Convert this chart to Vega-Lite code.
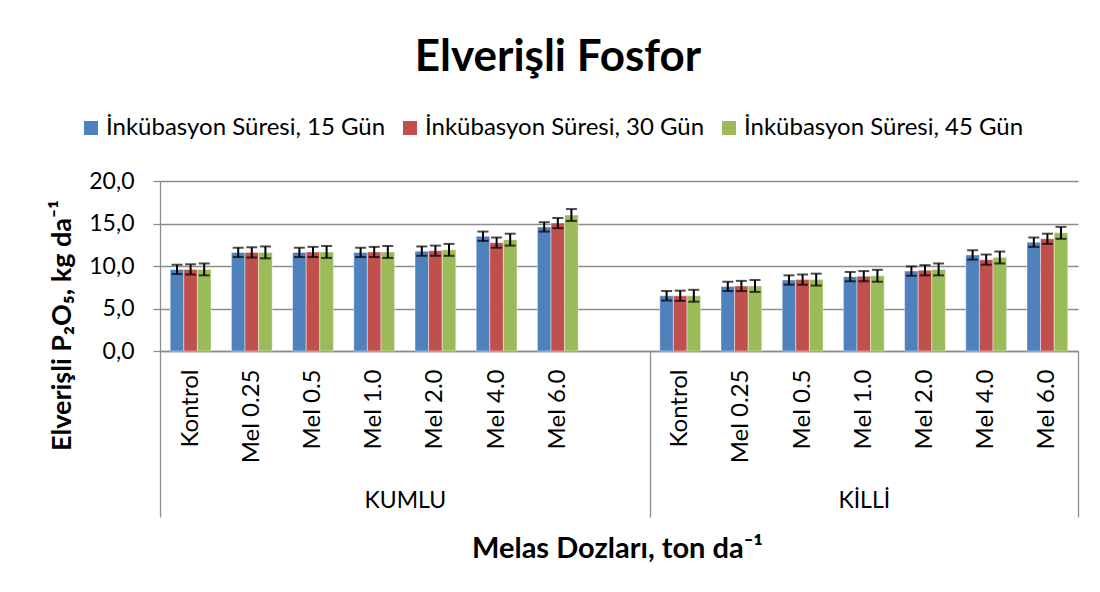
{
  "$schema": "https://vega.github.io/schema/vega-lite/v6.json",
  "width": 918,
  "height": 170,
  "autosize": "none",
  "padding": {"left": 160, "top": 181, "right": 22, "bottom": 241},
  "background": "white",
  "title": {"text": "Elverişli Fosfor", "font": "Lato", "fontSize": 44, "fontWeight": "bold", "color": "black", "anchor": "middle", "frame": "group", "dx": -61, "offset": 36},
  "config": {"view": {"stroke": null}, "font": "Lato"},
  "layer": [
    {
      "data": {"values": [
        {"slot": "K|Kontrol", "s": "İnkübasyon Süresi, 15 Gün", "v": 9.6, "lo": 9.05, "hi": 10.15},
        {"slot": "K|Kontrol", "s": "İnkübasyon Süresi, 30 Gün", "v": 9.6, "lo": 9.0, "hi": 10.2},
        {"slot": "K|Kontrol", "s": "İnkübasyon Süresi, 45 Gün", "v": 9.6, "lo": 8.9, "hi": 10.3},
        {"slot": "K|Mel 0.25", "s": "İnkübasyon Süresi, 15 Gün", "v": 11.6, "lo": 11.05, "hi": 12.15},
        {"slot": "K|Mel 0.25", "s": "İnkübasyon Süresi, 30 Gün", "v": 11.6, "lo": 11.0, "hi": 12.2},
        {"slot": "K|Mel 0.25", "s": "İnkübasyon Süresi, 45 Gün", "v": 11.6, "lo": 10.9, "hi": 12.3},
        {"slot": "K|Mel 0.5", "s": "İnkübasyon Süresi, 15 Gün", "v": 11.6, "lo": 11.05, "hi": 12.15},
        {"slot": "K|Mel 0.5", "s": "İnkübasyon Süresi, 30 Gün", "v": 11.65, "lo": 11.05, "hi": 12.25},
        {"slot": "K|Mel 0.5", "s": "İnkübasyon Süresi, 45 Gün", "v": 11.65, "lo": 10.95, "hi": 12.35},
        {"slot": "K|Mel 1.0", "s": "İnkübasyon Süresi, 15 Gün", "v": 11.6, "lo": 11.05, "hi": 12.15},
        {"slot": "K|Mel 1.0", "s": "İnkübasyon Süresi, 30 Gün", "v": 11.65, "lo": 11.05, "hi": 12.25},
        {"slot": "K|Mel 1.0", "s": "İnkübasyon Süresi, 45 Gün", "v": 11.65, "lo": 10.95, "hi": 12.35},
        {"slot": "K|Mel 2.0", "s": "İnkübasyon Süresi, 15 Gün", "v": 11.75, "lo": 11.2, "hi": 12.3},
        {"slot": "K|Mel 2.0", "s": "İnkübasyon Süresi, 30 Gün", "v": 11.8, "lo": 11.2, "hi": 12.4},
        {"slot": "K|Mel 2.0", "s": "İnkübasyon Süresi, 45 Gün", "v": 11.9, "lo": 11.2, "hi": 12.6},
        {"slot": "K|Mel 4.0", "s": "İnkübasyon Süresi, 15 Gün", "v": 13.5, "lo": 12.95, "hi": 14.05},
        {"slot": "K|Mel 4.0", "s": "İnkübasyon Süresi, 30 Gün", "v": 12.75, "lo": 12.15, "hi": 13.35},
        {"slot": "K|Mel 4.0", "s": "İnkübasyon Süresi, 45 Gün", "v": 13.1, "lo": 12.4, "hi": 13.8},
        {"slot": "K|Mel 6.0", "s": "İnkübasyon Süresi, 15 Gün", "v": 14.6, "lo": 14.05, "hi": 15.15},
        {"slot": "K|Mel 6.0", "s": "İnkübasyon Süresi, 30 Gün", "v": 15.05, "lo": 14.45, "hi": 15.65},
        {"slot": "K|Mel 6.0", "s": "İnkübasyon Süresi, 45 Gün", "v": 16.0, "lo": 15.3, "hi": 16.7},
        {"slot": "L|Kontrol", "s": "İnkübasyon Süresi, 15 Gün", "v": 6.5, "lo": 5.95, "hi": 7.05},
        {"slot": "L|Kontrol", "s": "İnkübasyon Süresi, 30 Gün", "v": 6.5, "lo": 5.9, "hi": 7.1},
        {"slot": "L|Kontrol", "s": "İnkübasyon Süresi, 45 Gün", "v": 6.5, "lo": 5.8, "hi": 7.2},
        {"slot": "L|Mel 0.25", "s": "İnkübasyon Süresi, 15 Gün", "v": 7.6, "lo": 7.05, "hi": 8.15},
        {"slot": "L|Mel 0.25", "s": "İnkübasyon Süresi, 30 Gün", "v": 7.65, "lo": 7.05, "hi": 8.25},
        {"slot": "L|Mel 0.25", "s": "İnkübasyon Süresi, 45 Gün", "v": 7.65, "lo": 6.95, "hi": 8.35},
        {"slot": "L|Mel 0.5", "s": "İnkübasyon Süresi, 15 Gün", "v": 8.35, "lo": 7.8, "hi": 8.9},
        {"slot": "L|Mel 0.5", "s": "İnkübasyon Süresi, 30 Gün", "v": 8.4, "lo": 7.8, "hi": 9.0},
        {"slot": "L|Mel 0.5", "s": "İnkübasyon Süresi, 45 Gün", "v": 8.4, "lo": 7.7, "hi": 9.1},
        {"slot": "L|Mel 1.0", "s": "İnkübasyon Süresi, 15 Gün", "v": 8.75, "lo": 8.2, "hi": 9.3},
        {"slot": "L|Mel 1.0", "s": "İnkübasyon Süresi, 30 Gün", "v": 8.8, "lo": 8.2, "hi": 9.4},
        {"slot": "L|Mel 1.0", "s": "İnkübasyon Süresi, 45 Gün", "v": 8.85, "lo": 8.15, "hi": 9.55},
        {"slot": "L|Mel 2.0", "s": "İnkübasyon Süresi, 15 Gün", "v": 9.4, "lo": 8.85, "hi": 9.95},
        {"slot": "L|Mel 2.0", "s": "İnkübasyon Süresi, 30 Gün", "v": 9.5, "lo": 8.9, "hi": 10.1},
        {"slot": "L|Mel 2.0", "s": "İnkübasyon Süresi, 45 Gün", "v": 9.6, "lo": 8.9, "hi": 10.3},
        {"slot": "L|Mel 4.0", "s": "İnkübasyon Süresi, 15 Gün", "v": 11.3, "lo": 10.75, "hi": 11.85},
        {"slot": "L|Mel 4.0", "s": "İnkübasyon Süresi, 30 Gün", "v": 10.75, "lo": 10.15, "hi": 11.35},
        {"slot": "L|Mel 4.0", "s": "İnkübasyon Süresi, 45 Gün", "v": 11.0, "lo": 10.3, "hi": 11.7},
        {"slot": "L|Mel 6.0", "s": "İnkübasyon Süresi, 15 Gün", "v": 12.8, "lo": 12.25, "hi": 13.35},
        {"slot": "L|Mel 6.0", "s": "İnkübasyon Süresi, 30 Gün", "v": 13.2, "lo": 12.6, "hi": 13.8},
        {"slot": "L|Mel 6.0", "s": "İnkübasyon Süresi, 45 Gün", "v": 13.9, "lo": 13.2, "hi": 14.6}
      ]},
      "layer": [
        {
          "mark": {"type": "bar", "stroke": "white", "strokeWidth": 0.6, "strokeOpacity": 0.7},
          "encoding": {
            "x": {"field": "slot", "type": "nominal", "sort": null,
              "scale": {"domain": ["K|Kontrol", "K|Mel 0.25", "K|Mel 0.5", "K|Mel 1.0", "K|Mel 2.0", "K|Mel 4.0", "K|Mel 6.0", "K|", "L|Kontrol", "L|Mel 0.25", "L|Mel 0.5", "L|Mel 1.0", "L|Mel 2.0", "L|Mel 4.0", "L|Mel 6.0"], "paddingInner": 0, "paddingOuter": 0},
              "axis": {"orient": "bottom", "title": null, "labelExpr": "split(datum.value, '|')[1]", "labelAngle": 270, "labelAlign": "right", "labelBaseline": "middle", "labelFontSize": 24, "labelColor": "black", "labelPadding": 18, "ticks": false, "domainColor": "#8c8c8c", "domainWidth": 1.3, "grid": false}},
            "xOffset": {"field": "s", "type": "nominal", "scale": {"paddingInner": 0, "paddingOuter": 0.75}},
            "y": {"field": "v", "type": "quantitative", "title": "Elverişli P₂O₅, kg da⁻¹",
              "scale": {"domain": [0, 20], "nice": false},
              "axis": {"values": [0, 5, 10, 15, 20], "labelExpr": "replace(format(datum.value, '.1f'), '.', ',')", "labelFontSize": 23, "labelColor": "black", "labelPadding": 19, "tickSize": 7, "tickColor": "#8c8c8c", "tickWidth": 1.3, "domainColor": "#8c8c8c", "domainWidth": 1.3, "gridColor": "#8c8c8c", "gridWidth": 1.3, "titleFontSize": 27, "titleFontWeight": "bold", "titleColor": "black", "titleAngle": 270, "titleX": -98, "titleY": 144, "titleAlign": "center", "titleBaseline": "middle"}},
            "color": {"field": "s", "type": "nominal",
              "scale": {"range": ["#4F81BD", "#C0504D", "#9BBB59"]},
              "legend": {"orient": "none", "legendX": -81, "legendY": -65, "padding": 0, "direction": "horizontal", "columns": 3, "title": null, "symbolType": "square", "symbolSize": 196, "symbolStrokeWidth": 0, "labelFont": "Lato", "labelFontSize": 24, "labelColor": "black", "labelOffset": 3, "columnPadding": 12, "labelLimit": 400}}
          }
        },
        {
          "mark": {"type": "rule", "color": "black", "strokeWidth": 2},
          "encoding": {
            "x": {"field": "slot", "type": "nominal"},
            "xOffset": {"field": "s", "type": "nominal"},
            "y": {"field": "lo", "type": "quantitative", "title": "Elverişli P₂O₅, kg da⁻¹"},
            "y2": {"field": "hi"}
          }
        },
        {
          "mark": {"type": "tick", "color": "black", "thickness": 2, "size": 11},
          "encoding": {
            "x": {"field": "slot", "type": "nominal"},
            "xOffset": {"field": "s", "type": "nominal"},
            "y": {"field": "lo", "type": "quantitative", "title": "Elverişli P₂O₅, kg da⁻¹"}
          }
        },
        {
          "mark": {"type": "tick", "color": "black", "thickness": 2, "size": 11},
          "encoding": {
            "x": {"field": "slot", "type": "nominal"},
            "xOffset": {"field": "s", "type": "nominal"},
            "y": {"field": "hi", "type": "quantitative", "title": "Elverişli P₂O₅, kg da⁻¹"}
          }
        }
      ]
    },
    {
      "data": {"values": [
        {"grp": "KUMLU", "pos": 4},
        {"grp": "KİLLİ", "pos": 11.5}
      ]},
      "mark": {"type": "point", "opacity": 0},
      "encoding": {
        "x": {"field": "pos", "type": "quantitative",
          "scale": {"domain": [0, 15], "nice": false, "zero": false},
          "axis": {"orient": "bottom", "offset": 0, "values": [0, 4, 8, 11.5, 15], "labelExpr": "datum.value == 4 ? 'KUMLU' : datum.value == 11.5 ? 'KİLLİ' : ''", "domain": false, "grid": false, "tickSize": 166, "tickWidth": 1.3, "tickColor": {"condition": {"test": "datum.value == 4 || datum.value == 11.5", "value": "transparent"}, "value": "#8c8c8c"}, "labelPadding": -28, "labelFontSize": 23, "labelColor": "black", "labelBaseline": "top", "labelAngle": 0, "labelFlush": false, "labelOverlap": false, "title": "Melas Dozları, ton da⁻¹", "titleFontSize": 29, "titleFontWeight": "bold", "titleColor": "black", "titleX": 457, "titleY": 197, "titleBaseline": "middle", "titleAlign": "center"}}
      }
    }
  ],
  "resolve": {"scale": {"x": "independent"}, "axis": {"x": "independent"}}
}
